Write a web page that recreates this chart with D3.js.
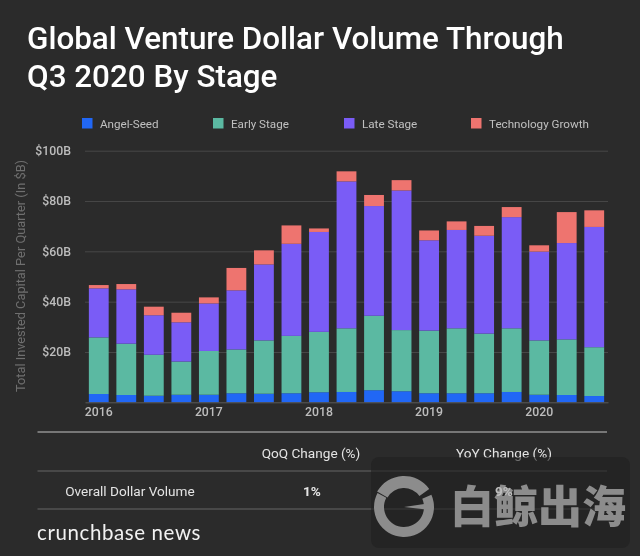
<!DOCTYPE html>
<html><head><meta charset="utf-8">
<script src="https://cdn.jsdelivr.net/npm/d3@7"></script>
<style>html,body{margin:0;padding:0;background:#2b2b2b;overflow:hidden}svg{display:block;filter:blur(0.35px)}text{font-family:Roboto,sans-serif}</style>
</head><body><svg id="c" width="640" height="556"></svg>
<script>
const quarters = ["2016 Q1","2016 Q2","2016 Q3","2016 Q4","2017 Q1","2017 Q2","2017 Q3","2017 Q4","2018 Q1","2018 Q2","2018 Q3","2018 Q4","2019 Q1","2019 Q2","2019 Q3","2019 Q4","2020 Q1","2020 Q2","2020 Q3"];
const stages = ["Angel-Seed","Early Stage","Late Stage","Technology Growth"];
const stageColors = ["#2167f5","#5bb9a2","#7a5cf6","#ee746f"];
const angelSeed = [3.3,2.9,2.6,3.0,3.0,3.6,3.4,3.6,4.0,4.1,4.8,4.4,3.6,3.6,3.6,4.1,3.0,2.9,2.5];
const earlyStage = [22.5,20.4,16.3,13.2,17.4,17.4,21.2,22.8,24.0,25.3,29.6,24.3,24.9,25.8,23.7,25.3,21.6,22.1,19.4];
const lateStage = [19.5,21.6,15.7,15.6,18.9,23.5,30.2,36.6,39.7,58.4,43.6,55.5,35.9,39.1,38.9,44.2,35.3,38.3,47.8];
const techGrowth = [1.3,2.1,3.4,3.8,2.4,8.9,5.6,7.3,1.4,4.0,4.4,4.1,3.9,3.4,3.9,4.0,2.5,12.3,6.6];
const yTicks = [20,40,60,80,100];
const yearTicks = ["2016 Q1","2017 Q1","2018 Q1","2019 Q1","2020 Q1"];
const titleLines = ["Global Venture Dollar Volume Through","Q3 2020 By Stage"];
const tableHeaders = ["QoQ Change (%)","YoY Change (%)"];
const tableRow = ["Overall Dollar Volume","1%","9%"];

const svg = d3.select("#c");
svg.append("rect").attr("width",640).attr("height",556).attr("fill","#2b2b2b");

svg.selectAll(".title").data(titleLines).join("text").attr("class","title")
  .attr("x",27).attr("y",(d,i)=>49+i*38).attr("fill","#fff")
  .attr("font-size",31.4).attr("font-weight",500).text(d=>d);

// legend
const legendX = [82,213,344,471];
const lg = svg.selectAll(".lg").data(stages).join("g").attr("class","lg")
  .attr("transform",(d,i)=>`translate(${legendX[i]},118)`);
lg.append("rect").attr("width",10.5).attr("height",10.5).attr("fill",(d,i)=>stageColors[i]);
lg.append("text").attr("x",18).attr("y",9.8).attr("fill","#c0c0c0").attr("font-size",11.65).text(d=>d);

// scales
const x = d3.scaleBand().domain(quarters).range([85,608]).paddingInner(0.28).paddingOuter(0.14);
const y = d3.scaleLinear().domain([0,100]).range([402.3,150.7]);

// axes
const yAxis = svg.append("g").attr("transform","translate(85,0)")
  .call(d3.axisLeft(y).tickValues(yTicks).tickSize(-523).tickPadding(14).tickFormat(d=>`$${d}B`));
yAxis.select(".domain").remove();
yAxis.selectAll("line").attr("stroke","#484848").attr("stroke-width",1);
yAxis.selectAll("text").attr("fill","#bdbdbd").attr("font-size",12.3).attr("font-weight",500);

const series = d3.stack().keys(d3.range(4))
  .value((i,k)=>[angelSeed,earlyStage,lateStage,techGrowth][k][i])(d3.range(quarters.length));
svg.selectAll(".s").data(series).join("g").attr("class","s").attr("fill",(d,i)=>stageColors[i])
  .selectAll("rect").data(d=>d).join("rect")
  .attr("x",d=>x(quarters[d.data])).attr("width",x.bandwidth())
  .attr("y",d=>y(d[1])).attr("height",d=>y(d[0])-y(d[1]));

const xAxis = svg.append("g").attr("transform","translate(0,402.3)")
  .call(d3.axisBottom(x).tickValues(yearTicks).tickSize(0).tickPadding(5).tickFormat(d=>d.slice(0,4)));
xAxis.select(".domain").attr("stroke","#5a5a5a");
xAxis.selectAll("text").attr("fill","#bdbdbd").attr("font-size",12.3).attr("font-weight",500);

svg.append("text").attr("transform","translate(24.5,276) rotate(-90)").attr("text-anchor","middle")
  .attr("fill","#6f6f6f").attr("font-size",12.8).text("Total Invested Capital Per Quarter (In $B)");

// table
[[432,2,"#777"],[471,1,"#666"],[509,1,"#666"]].forEach(([ly,w,c])=>
  svg.append("line").attr("x1",37.5).attr("x2",607).attr("y1",ly).attr("y2",ly).attr("stroke",c).attr("stroke-width",w));
const cell=(t,cx,cy,fw)=>svg.append("text").attr("x",cx).attr("y",cy).attr("text-anchor","middle")
  .attr("fill","#e4e4e4").attr("font-size",13.6).attr("font-weight",fw||400).text(t);
cell(tableHeaders[0],311,458);
cell(tableHeaders[1],504,458);
cell(tableRow[0],130,496);
cell(tableRow[1],312,496,700);

svg.append("text").attr("x",37).attr("y",540).attr("fill","#f2f2f2").attr("font-size",20.5)
  .style("font-family","Lato,sans-serif").attr("letter-spacing",0.6).text("crunchbase news");

// watermark
svg.append("rect").attr("x",371).attr("y",457).attr("width",259).attr("height",91).attr("rx",8).attr("fill","#1f1f1f").attr("fill-opacity",0.6);
const arc=d3.arc();
[{innerRadius:20,outerRadius:30,startAngle:1.15,endAngle:5.2},
 {innerRadius:0,outerRadius:29,startAngle:1.42,endAngle:1.68},
 {innerRadius:19,outerRadius:31,startAngle:-1.05,endAngle:0.95}].forEach(a=>
  svg.append("path").attr("transform","translate(404,507)").attr("fill","#8c8c8c").attr("d",arc(a)));
svg.append("text").attr("x",450).attr("y",523).attr("fill","#8c8c8c").style("font-family","'Noto Sans CJK SC'")
  .attr("font-size",44).attr("font-weight",900).text("白鲸出海");
cell(tableRow[2],504,496,700).attr("fill","#bdbdbd");
</script></body></html>
